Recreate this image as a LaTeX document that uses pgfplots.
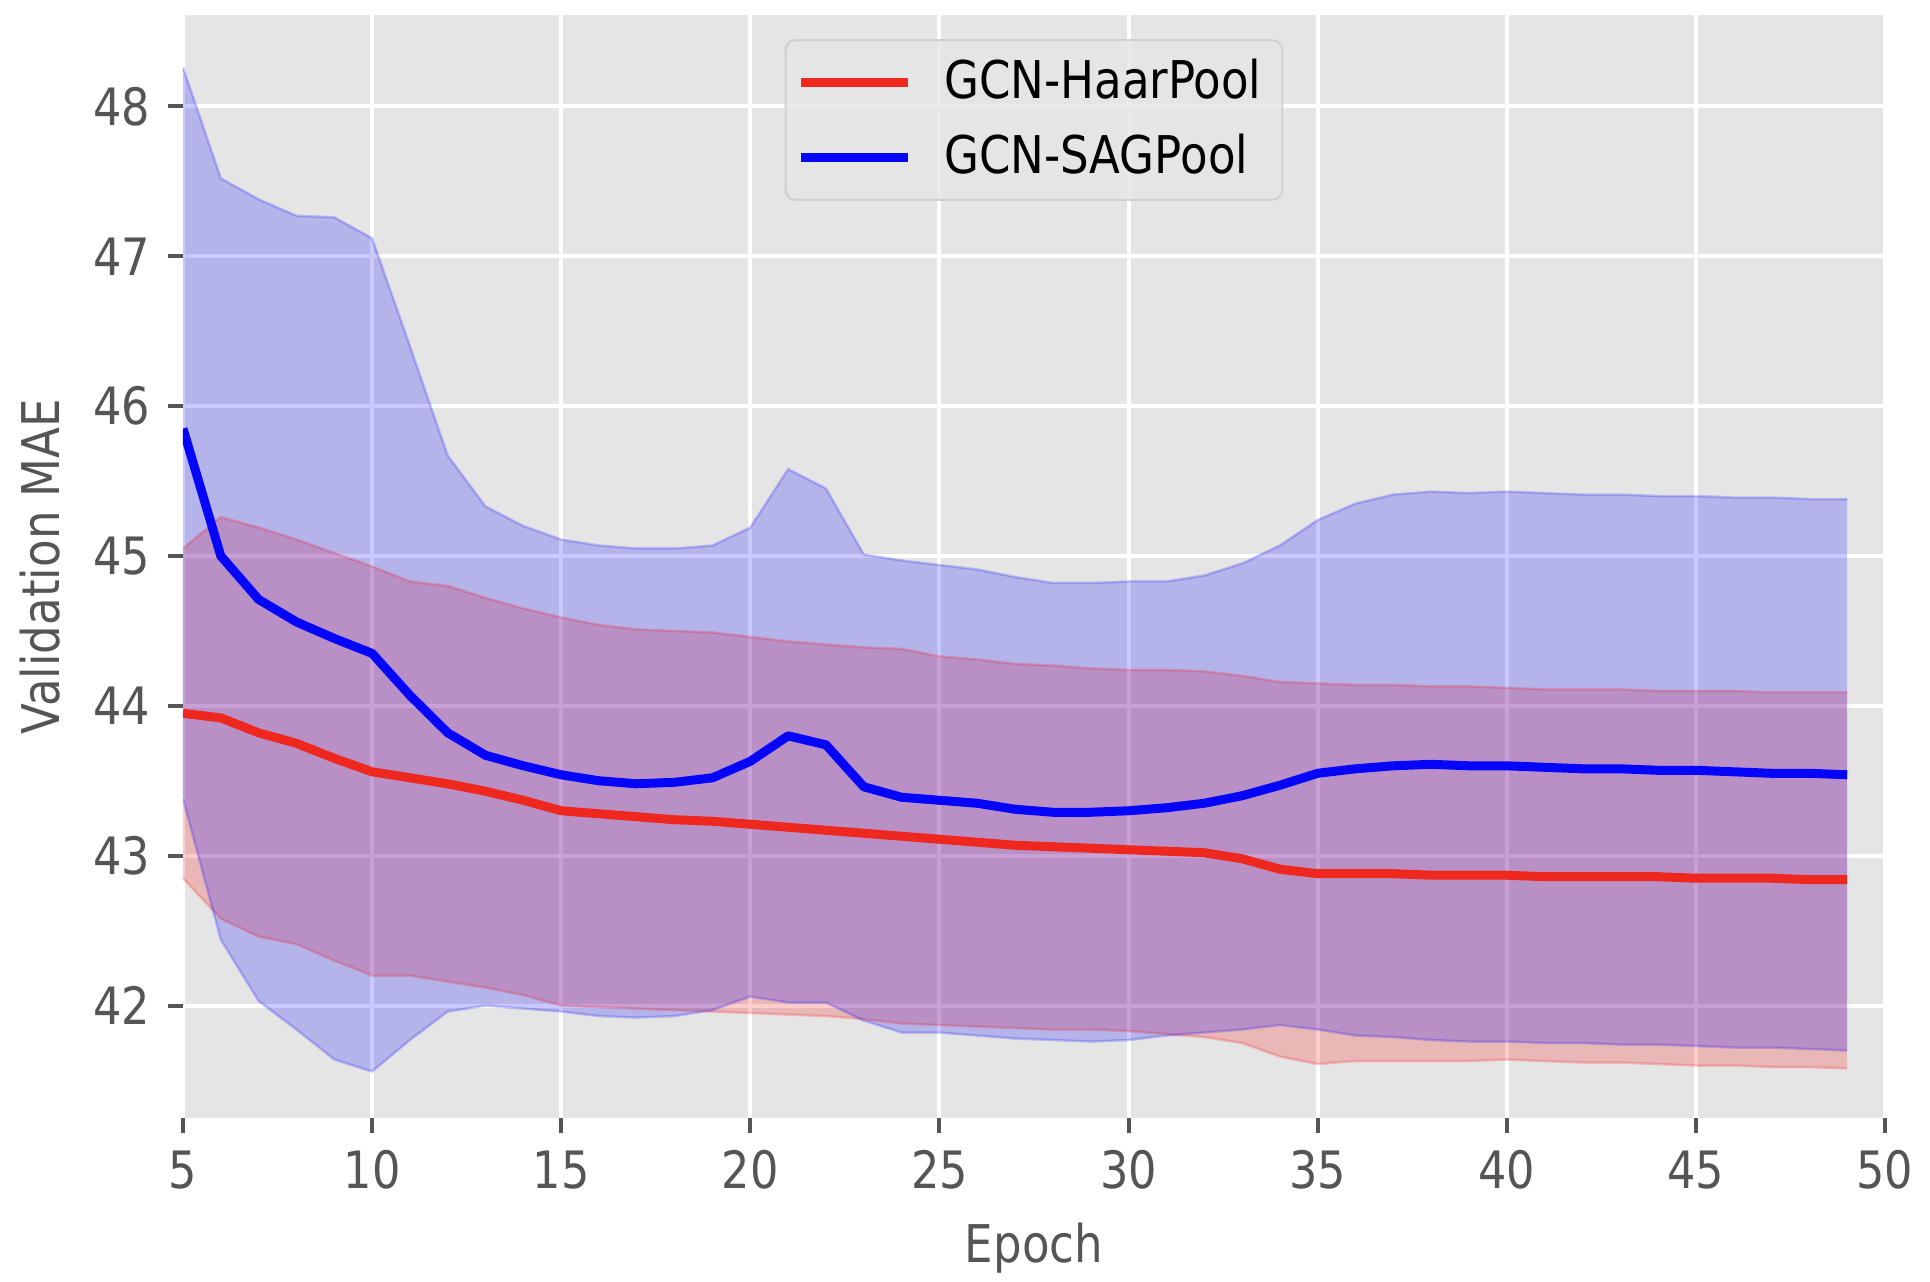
\documentclass[border=0pt]{standalone}
\usepackage{fontspec}
\setmainfont{DejaVu Sans}[FakeStretch=0.867]
\usepackage{pgfplots}
\pgfplotsset{compat=1.18}
\usepackage{pgfplotstable}
\usepgfplotslibrary{fillbetween}
\definecolor{bg}{RGB}{229,229,229}
\definecolor{tk}{RGB}{85,85,85}
\definecolor{lred}{RGB}{238,40,30}
\definecolor{lblue}{RGB}{5,5,250}

\pgfplotstableread{
x  m     lo    hi
5  43.95 42.85 45.05
6  43.92 42.58 45.26
7  43.82 42.46 45.19
8  43.75 42.41 45.11
9  43.65 42.30 45.02
10 43.56 42.20 44.93
11 43.52 42.20 44.83
12 43.48 42.16 44.80
13 43.43 42.12 44.72
14 43.37 42.07 44.65
15 43.30 42.00 44.59
16 43.28 41.99 44.54
17 43.26 41.98 44.51
18 43.24 41.97 44.50
19 43.23 41.96 44.49
20 43.21 41.95 44.46
21 43.19 41.94 44.43
22 43.17 41.93 44.41
23 43.15 41.91 44.39
24 43.13 41.88 44.38
25 43.11 41.87 44.33
26 43.09 41.86 44.31
27 43.07 41.85 44.28
28 43.06 41.84 44.27
29 43.05 41.84 44.25
30 43.04 41.83 44.24
31 43.03 41.81 44.24
32 43.02 41.79 44.23
33 42.98 41.75 44.20
34 42.91 41.66 44.16
35 42.88 41.61 44.15
36 42.88 41.63 44.14
37 42.88 41.63 44.14
38 42.87 41.63 44.13
39 42.87 41.63 44.13
40 42.87 41.64 44.12
41 42.86 41.63 44.11
42 42.86 41.62 44.11
43 42.86 41.62 44.11
44 42.86 41.61 44.10
45 42.85 41.60 44.10
46 42.85 41.60 44.10
47 42.85 41.59 44.09
48 42.84 41.59 44.09
49 42.84 41.58 44.09
}\haar

\pgfplotstableread{
x  m     lo    hi
5  45.85 43.38 48.26
6  45.00 42.44 47.52
7  44.71 42.03 47.38
8  44.56 41.84 47.27
9  44.45 41.64 47.26
10 44.35 41.56 47.12
11 44.07 41.77 46.40
12 43.82 41.96 45.67
13 43.67 42.00 45.33
14 43.60 41.98 45.20
15 43.54 41.96 45.11
16 43.50 41.93 45.07
17 43.48 41.92 45.05
18 43.49 41.93 45.05
19 43.52 41.97 45.07
20 43.63 42.06 45.19
21 43.80 42.02 45.58
22 43.74 42.02 45.45
23 43.46 41.90 45.01
24 43.39 41.82 44.97
25 43.37 41.82 44.94
26 43.35 41.80 44.91
27 43.31 41.78 44.86
28 43.29 41.77 44.82
29 43.29 41.76 44.82
30 43.30 41.77 44.83
31 43.32 41.80 44.83
32 43.35 41.82 44.87
33 43.40 41.84 44.95
34 43.47 41.87 45.07
35 43.55 41.84 45.24
36 43.58 41.80 45.35
37 43.60 41.79 45.41
38 43.61 41.77 45.43
39 43.60 41.76 45.42
40 43.60 41.76 45.43
41 43.59 41.75 45.42
42 43.58 41.75 45.41
43 43.58 41.74 45.41
44 43.57 41.74 45.40
45 43.57 41.73 45.40
46 43.56 41.72 45.39
47 43.55 41.72 45.39
48 43.55 41.71 45.38
49 43.54 41.70 45.38
}\sag

\begin{document}
\begin{tikzpicture}
\begin{axis}[
  scale only axis, width=340.4pt, height=220.6pt,
  at={(0pt,0pt)}, anchor=south west,
  xmin=5, xmax=50, ymin=41.25, ymax=48.61,
  xtick={5,10,...,50}, ytick={42,43,...,48},
  axis background/.style={fill=bg},
  axis line style={draw=none},
  grid=major, major grid style={white, line width=0.8pt},
  tick align=outside, major tick length=3pt,
  tick style={tk, line width=0.8pt},
  xtick pos=bottom, ytick pos=left,
  /pgf/number format/assume math mode=true,
  tick label style={font=\fontsize{10.3}{12}\selectfont, text=tk},
  xlabel={Epoch}, ylabel={Validation MAE},
  label style={font=\fontsize{10.4}{12}\selectfont, text=tk},
  xlabel style={at={(axis description cs:0.5,-0.118)}, anchor=center},
  ylabel style={at={(axis description cs:-0.084,0.5)}, anchor=center},
  legend cell align=left,
  legend style={at={(axis description cs:0.5,0.978)}, anchor=north,
    draw=black!18, fill=bg, fill opacity=0.8, text opacity=1,
    rounded corners=2pt, font=\fontsize{10.4}{12}\selectfont,
    inner xsep=2.2pt, inner ysep=1.8pt, row sep=1.5pt, column sep=4.3pt},
  legend image code/.code={\draw[#1, line width=1.8pt] (0pt,0pt) -- (21.4pt,0pt);},
]
\addplot[name path=hu, draw=red, draw opacity=0.2, line width=0.5pt, forget plot] table[x=x,y=hi]{\haar};
\addplot[name path=hl, draw=red, draw opacity=0.2, line width=0.5pt, forget plot] table[x=x,y=lo]{\haar};
\addplot[fill=red, fill opacity=0.2, draw=none, forget plot] fill between[of=hu and hl];
\addplot[name path=su, draw=blue, draw opacity=0.2, line width=0.5pt, forget plot] table[x=x,y=hi]{\sag};
\addplot[name path=sl, draw=blue, draw opacity=0.2, line width=0.5pt, forget plot] table[x=x,y=lo]{\sag};
\addplot[fill=blue, fill opacity=0.21, draw=none, forget plot] fill between[of=su and sl];
\addplot[lred, line width=1.8pt, line join=round] table[x=x,y=m]{\haar};
\addlegendentry{GCN-HaarPool}
\addplot[lblue, line width=1.8pt, line join=round] table[x=x,y=m]{\sag};
\addlegendentry{GCN-SAGPool}
\end{axis}
\pgfresetboundingbox
\useasboundingbox (-36.6pt,-32.8pt) rectangle (349.4pt,223.6pt);
\end{tikzpicture}
\end{document}
